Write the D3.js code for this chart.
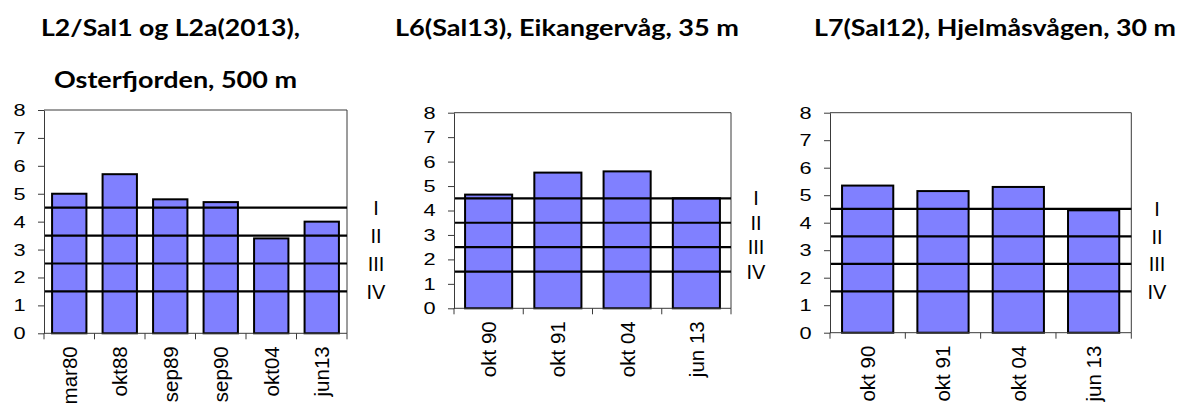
<!DOCTYPE html>
<html>
<head>
<meta charset="utf-8">
<script src="https://cdn.jsdelivr.net/npm/d3@7"></script>
<style>
  html, body { margin: 0; padding: 0; background: #fff; }
  svg { display: block; }
  .title { font-family: Lato, "Open Sans", sans-serif; font-weight: 700; font-size: 22px; fill: #000; }
  .tick text, .xlab, .cls { font-family: "Liberation Sans", Arial, sans-serif; fill: #000; }
</style>
</head>
<body>
<svg id="chart" width="1186" height="403"></svg>
<script>
// Station data: sediment condition index per sampling date
const l2Dates   = ["mar80", "okt88", "sep89", "sep90", "okt04", "jun13"];
const l2Values  = [5.0, 5.7, 4.8, 4.7, 3.4, 4.0];

const l6Dates   = ["okt 90", "okt 91", "okt 04", "jun 13"];
const l6Values  = [4.65, 5.55, 5.6, 4.5];

const l7Dates   = ["okt 90", "okt 91", "okt 04", "jun 13"];
const l7Values  = [5.35, 5.15, 5.3, 4.45];

// Class boundaries and their labels
const classLimits = [4.5, 3.5, 2.5, 1.5];
const classLabels = ["I", "II", "III", "IV"];

const yTicks = [0, 1, 2, 3, 4, 5, 6, 7, 8];

const l2Title = ["L2/Sal1 og L2a(2013),", "Osterfjorden, 500 m"];
const l6Title = ["L6(Sal13), Eikangervåg, 35 m"];
const l7Title = ["L7(Sal12), Hjelmåsvågen, 30 m"];

// Panel layout
const panels = [
  { dates: l2Dates, values: l2Values, title: l2Title,
    left: 44, right: 347, top: 110, bottom: 333.3, clsX: 376,
    titleLines: [{ x: 41, y: 36, w: 259 }, { x: 54, y: 88, w: 243 }] },
  { dates: l6Dates, values: l6Values, title: l6Title,
    left: 454, right: 731, top: 112.7, bottom: 308.3, clsX: 756,
    titleLines: [{ x: 395, y: 36, w: 344 }] },
  { dates: l7Dates, values: l7Values, title: l7Title,
    left: 830, right: 1131.3, top: 112.7, bottom: 332.7, clsX: 1157,
    titleLines: [{ x: 814, y: 36, w: 362 }] }
];

const svg = d3.select("#chart");
const axisColor = "#3a3a3a";

panels.forEach(p => {
  const g = svg.append("g");

  // Title
  p.title.forEach((line, i) => {
    const t = p.titleLines[i];
    g.append("text").attr("class", "title")
      .attr("x", t.x).attr("y", t.y)
      .attr("textLength", t.w).attr("lengthAdjust", "spacingAndGlyphs")
      .text(line);
  });

  const x = d3.scaleBand().domain(p.dates)
    .range([p.left, p.right]).paddingInner(0.32).paddingOuter(0.16);
  const y = d3.scaleLinear().domain([0, 8]).range([p.bottom, p.top]);

  // Plot area frame (top and right)
  g.append("path")
    .attr("d", `M${p.left},${y(8)}H${p.right}V${y(0)}`)
    .attr("fill", "none").attr("stroke", axisColor).attr("stroke-width", 1);

  // Bars
  g.selectAll("rect.bar").data(p.dates).join("rect")
    .attr("class", "bar")
    .attr("x", d => x(d)).attr("width", x.bandwidth())
    .attr("y", (d, i) => y(p.values[i]))
    .attr("height", (d, i) => y(0) - y(p.values[i]))
    .attr("fill", "#8080ff").attr("stroke", "#000").attr("stroke-width", 2);

  // Class boundary lines
  g.selectAll("line.cls-line").data(classLimits).join("line")
    .attr("class", "cls-line")
    .attr("x1", p.left).attr("x2", p.right)
    .attr("y1", d => y(d)).attr("y2", d => y(d))
    .attr("stroke", "#000").attr("stroke-width", 2.2);

  // Class labels
  g.selectAll("text.cls").data(classLimits).join("text")
    .attr("class", "cls")
    .attr("x", p.clsX).attr("y", d => y(d))
    .attr("dy", "0.36em").attr("text-anchor", "middle")
    .style("font-size", "20px")
    .text((d, i) => classLabels[i]);

  // Y axis
  const yAxis = g.append("g")
    .attr("transform", `translate(${p.left},0)`)
    .call(d3.axisLeft(y).tickValues(yTicks).tickFormat(d3.format("d"))
      .tickSize(6).tickSizeOuter(0).tickPadding(12));
  yAxis.select(".domain").attr("stroke", axisColor);
  yAxis.selectAll(".tick line").attr("stroke", axisColor);
  yAxis.selectAll(".tick text")
    .style("font-size", "17px")
    .attr("x", -18.5 / 1.28)
    .attr("transform", "scale(1.28,1)");

  // X axis line and category separators
  g.append("line")
    .attr("x1", p.left).attr("x2", p.right)
    .attr("y1", y(0)).attr("y2", y(0))
    .attr("stroke", axisColor);
  const bounds = d3.range(p.dates.length + 1)
    .map(i => x.range()[0] + i * x.step());
  g.selectAll("line.xtick").data(bounds).join("line")
    .attr("class", "xtick")
    .attr("x1", d => d).attr("x2", d => d)
    .attr("y1", y(0)).attr("y2", y(0) + 6)
    .attr("stroke", axisColor);

  // Rotated category labels
  g.selectAll("text.xlab").data(p.dates).join("text")
    .attr("class", "xlab")
    .attr("transform", d => `translate(${x(d) + x.bandwidth() / 2},${y(0) + 13}) rotate(-90)`)
    .attr("text-anchor", "end").attr("dy", "0.36em")
    .style("font-size", "20.5px")
    .text(d => d);
});
</script>
</body>
</html>
